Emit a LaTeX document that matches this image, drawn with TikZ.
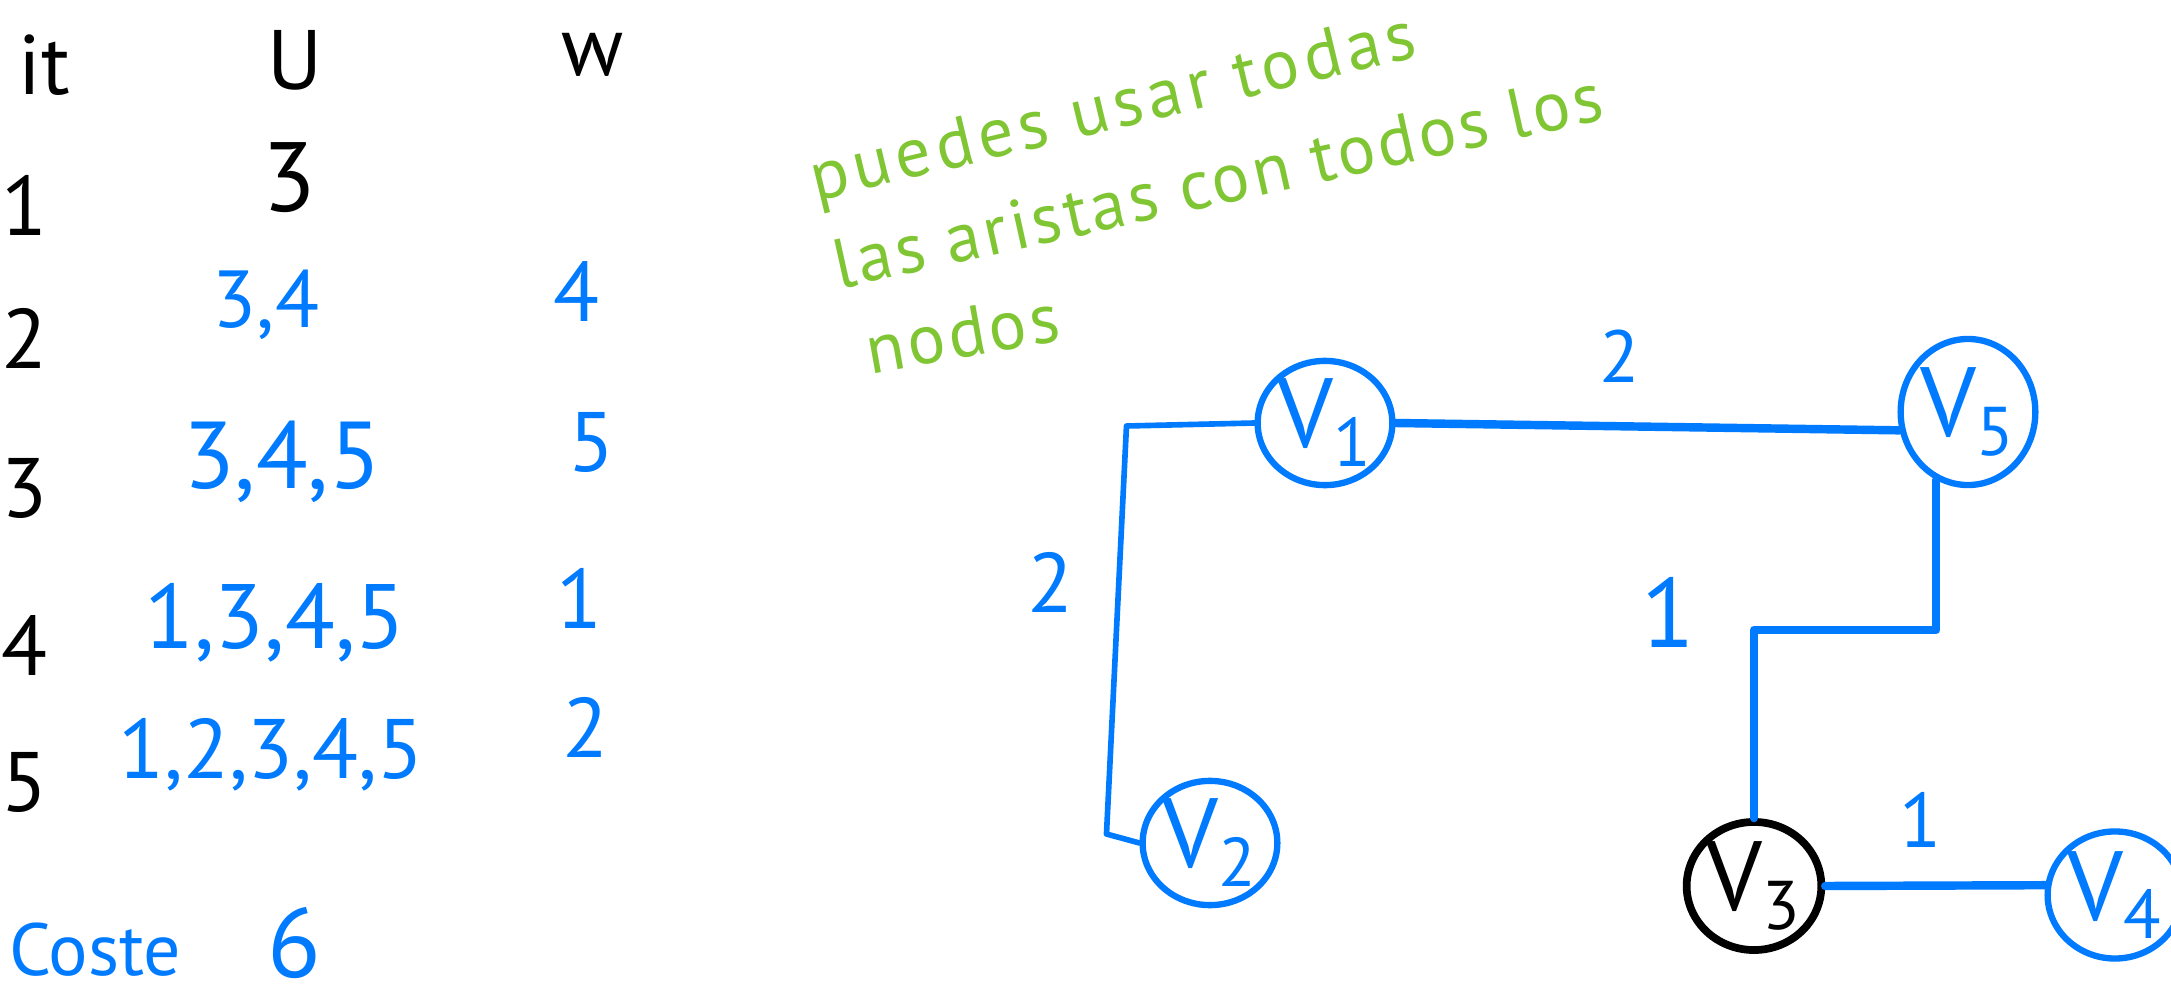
\documentclass[tikz,border=0pt]{standalone}
\usepackage{fontspec}
\setmainfont{PT Sans}
\usetikzlibrary{shapes.geometric}
\definecolor{azul}{RGB}{0,122,255}
\definecolor{verde}{RGB}{128,198,52}
\newcommand\fs[1]{\fontsize{#1}{#1}\selectfont}
\newcommand\letra[1]{\fs{20}\addfontfeature{LetterSpace=#1}}
\begin{document}
\begin{tikzpicture}[x=0.01cm,y=-0.01cm,line join=round,line cap=round,
    negro/.style={font=\fs{24},inner sep=1pt},
    azl/.style={text=azul,font=\fs{24},inner sep=1pt},
    nota/.style={text=verde,font=\letra{5},anchor=base west,inner sep=1pt},
    vtx/.style={ellipse,draw=azul,text=azul,line width=1.8pt,inner sep=0pt,font=\fs{28}},
    arista/.style={draw=azul,line width=2.4pt},
    peso/.style={text=azul,font=\fs{24},inner sep=1pt}]
    \useasboundingbox (0,0) rectangle (2171,1000);
    %tabla
    \node[negro] (it) at (44,65) {it};
    \node[negro] (u) at (295,60) {U};
    \node[negro] (w) at (593,55) {w};
    \foreach \n/\y in {1/205,2/338,3/488,4/645,5/782}
        \node[negro] (r\n) at (24,\y) {\n};
    \node[negro,font=\fs{28}] (u1) at (289,178) {3};
    \node[azl,font=\fs{23}] (u2) at (266,305) {3,4};
    \node[azl] (w2) at (576,291) {4};
    \node[azl,font=\fs{27}] (u3) at (282,462) {3,4,5};
    \node[azl] (w3) at (591,442) {5};
    \node[azl,font=\fs{26}] (u4) at (275,623) {1,3,4,5};
    \node[azl] (w4) at (579,598) {1};
    \node[azl] (u5) at (271,755) {1,2,3,4,5};
    \node[azl] (w5) at (585,727) {2};
    \node[azl,font=\fs{21}] (coste) at (95,950) {Coste};
    \node[azl,font=\fs{28}] (c) at (294,943) {6};
    %nota
    \node[nota,font=\letra{8},rotate=13.5] (l1) at (812,202) {puedes usar todas};
    \node[nota,rotate=12.5] (l2) at (835,290) {las aristas con todos los};
    \node[nota,rotate=10] (l3) at (866,375) {nodos};
    %grafo
    \node[vtx,minimum width=1.08cm,minimum height=1.18cm] (v1) at (1325,423) {V\textsubscript{1}};
    \node[vtx,minimum width=1.18cm,minimum height=1.46cm] (v5) at (1968,412) {V\textsubscript{5}};
    \node[vtx,minimum width=1.06cm,minimum height=1.14cm] (v2) at (1210,843) {V\textsubscript{2}};
    \node[vtx,draw=black,text=black,line width=2.2pt,minimum width=0.97cm,minimum height=1.28cm] (v3) at (1754,886) {V\textsubscript{3}};
    \node[vtx,minimum width=1.05cm,minimum height=1.27cm] (v4) at (2115,895) {V\textsubscript{4}};
    \draw[arista] (v1.east) -- (v5.195);
    \draw[arista,line width=1.6pt] (v1.west) -- ++(-128,3) -- ++(-20,408) -- (v2.west);
    \draw[arista] (v5.245) -- ++(0,150) -| (v3.north);
    \draw[arista] (v3.east) -- (v4.172);
    \node[peso,font=\fs{21}] (p15) at (1620,356) {2};
    \node[peso] (p12) at (1050,582) {2};
    \node[peso,font=\fs{28}] (p53) at (1668,612) {1};
    \node[peso,font=\fs{22}] (p34) at (1921,820) {1};
\end{tikzpicture}
\end{document}
